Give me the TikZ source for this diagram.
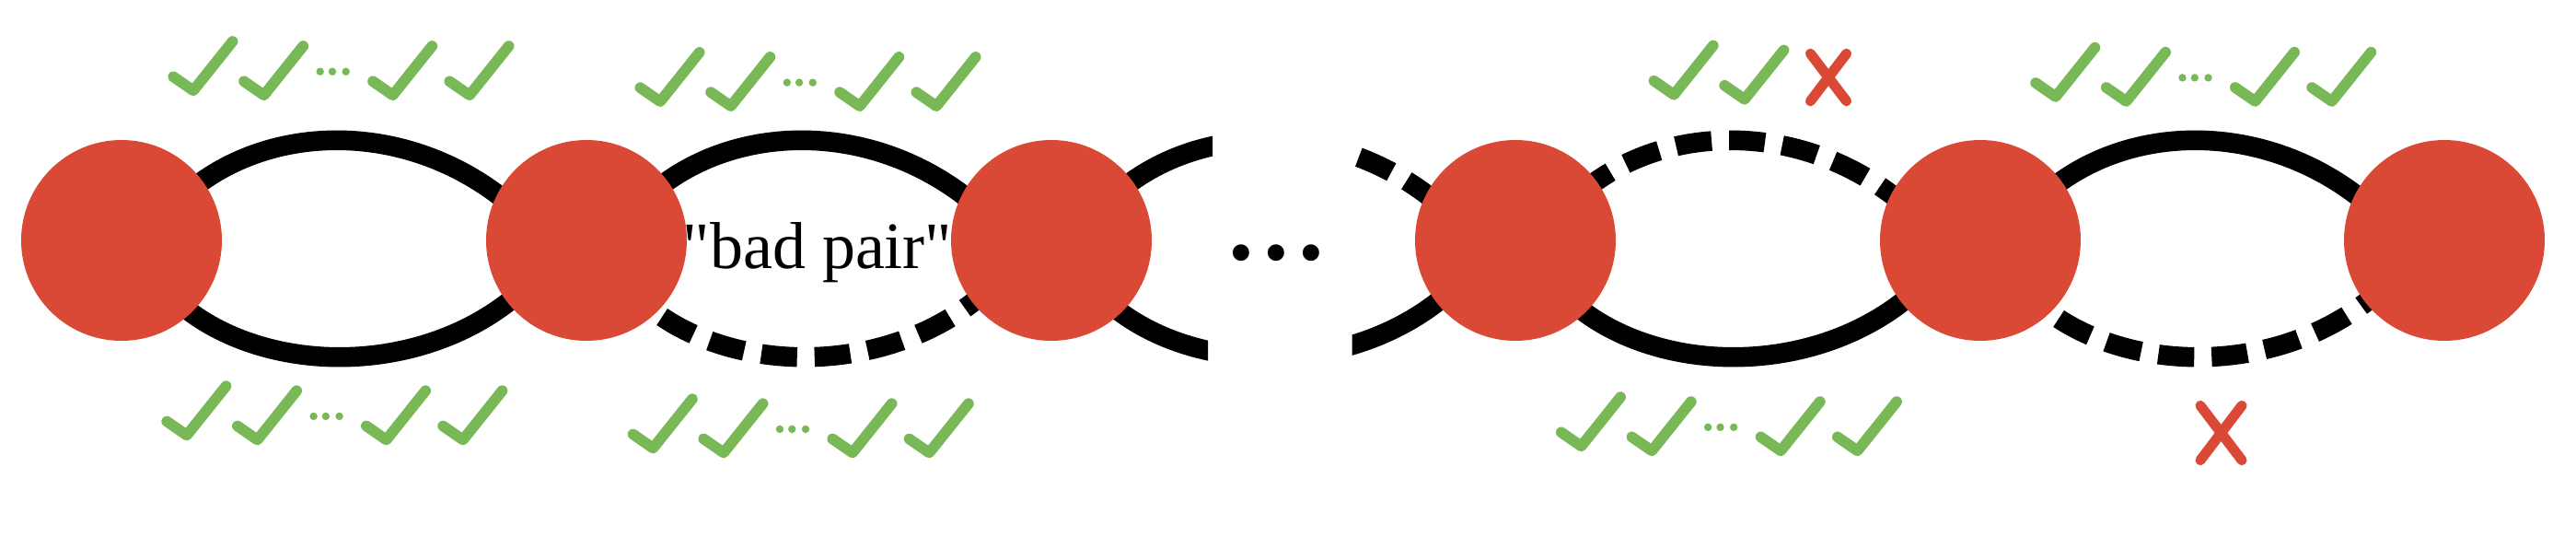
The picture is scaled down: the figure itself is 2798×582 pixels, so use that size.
\documentclass[tikz,border=0pt]{standalone}
\usepackage{fontspec}
\setmainfont{Liberation Serif}[Ligatures=TeXOff]
\pgfdeclarelayer{bg}
\pgfsetlayers{bg,main}
\definecolor{dotred}{RGB}{218,73,53}
\definecolor{okgreen}{RGB}{121,184,87}
\tikzset{
  vertexdot/.style={circle, fill=dotred, draw=none, minimum size=218pt, inner sep=0pt},
  edgeline/.style={line width=21.5pt, line cap=butt},
  dashedge/.style={edgeline, dash pattern=on 39pt off 19pt},
  chkline/.style={okgreen, line width=11.7pt, line cap=round, line join=round},
  xline/.style={dotred, line width=11pt, line cap=round},
  okmark/.pic={\draw[chkline] (-21.7,-15) -- (0,0) -- (42.6,-53.3);},
  badmark/.pic={\draw[xline] (-19.6,-25.8) -- (19.6,25.8) (19.6,-25.8) -- (-19.6,25.8);},
  okdots/.pic={\fill[okgreen] (61,-25.6) circle (4.2pt) (74.3,-25.6) circle (4.2pt) (89,-25.6) circle (4.2pt);},
  okgroup/.pic={
    \pic at (-76.7,-5) {okmark};
    \pic at (0,0) {okmark};
    \pic at (140,0) {okmark};
    \pic at (223.3,0) {okmark};
    \pic at (0,0) {okdots};
  },
  bigtext/.style={font=\fontsize{72}{80}\selectfont, inner sep=0pt, anchor=base},
  dotstext/.style={font=\fontsize{151}{160}\selectfont, inner sep=0pt, anchor=base}
}
\newcommand\upperarc[3]{\draw[#1] ([shift={(78,-57)}]#2.center) .. controls ([shift={(168,-128)}]#2.center) and ([shift={(-194,-128)}]#3.center) .. ([shift={(-89,-44)}]#3.center);}
\newcommand\lowerarc[3]{\draw[#1] ([shift={(68.4,73)}]#2.center) .. controls ([shift={(161,146.5)}]#2.center) and ([shift={(-180.3,146.5)}]#3.center) .. ([shift={(-77.5,61)}]#3.center);}
\begin{document}
\begin{tikzpicture}[x=1pt,y=-1pt]
\useasboundingbox (0,0) rectangle (2798,582);
% vertices
\node[vertexdot] (c1) at (132,261) {};
\node[vertexdot] (c2) at (637,261) {};
\node[vertexdot] (c3) at (1142,261) {};
\node[vertexdot] (c4) at (1646,261) {};
\node[vertexdot] (c5) at (2151,261) {};
\node[vertexdot] (c6) at (2655,261) {};
% edges
\begin{pgfonlayer}{bg}
  \upperarc{edgeline}{c1}{c2}
  \lowerarc{edgeline}{c1}{c2}
  \upperarc{edgeline}{c2}{c3}
  \lowerarc{dashedge,dash phase=41pt}{c2}{c3}
  \begin{scope}
    \clip (0,0) rectangle (1317,582);
    \upperarc{edgeline}{c3}{c4}
  \end{scope}
  \begin{scope}
    \clip (0,0) rectangle (1312,582);
    \lowerarc{edgeline}{c3}{c4}
  \end{scope}
  \begin{scope}
    \clip (1468.5,0) rectangle (2798,582);
    \upperarc{dashedge,dash phase=20.5pt}{c3}{c4}
    \lowerarc{edgeline}{c3}{c4}
  \end{scope}
  \upperarc{dashedge,dash phase=8.5pt}{c4}{c5}
  \lowerarc{edgeline}{c4}{c5}
  \upperarc{edgeline}{c5}{c6}
  \lowerarc{dashedge,dash phase=37.5pt}{c5}{c6}
\end{pgfonlayer}
% labels
\node[bigtext] (bad) at (888,291.7) {"bad pair"};
\node[dotstext] (gap) at (1386.2,281) {...};
% check groups
\pic at (286.7,103.3) {okgroup};
\pic at (793.8,115.2) {okgroup};
\pic at (279.6,477.5) {okgroup};
\pic at (786,491.5) {okgroup};
\pic at (1818.2,102.8) {okmark};
\pic at (1894.9,107.8) {okmark};
\pic at (1986,84) {badmark};
\pic at (2309.5,110) {okgroup};
\pic at (1794.2,489.4) {okgroup};
\pic[scale=1.15] at (2412.5,470) {badmark};
\end{tikzpicture}
\end{document}
